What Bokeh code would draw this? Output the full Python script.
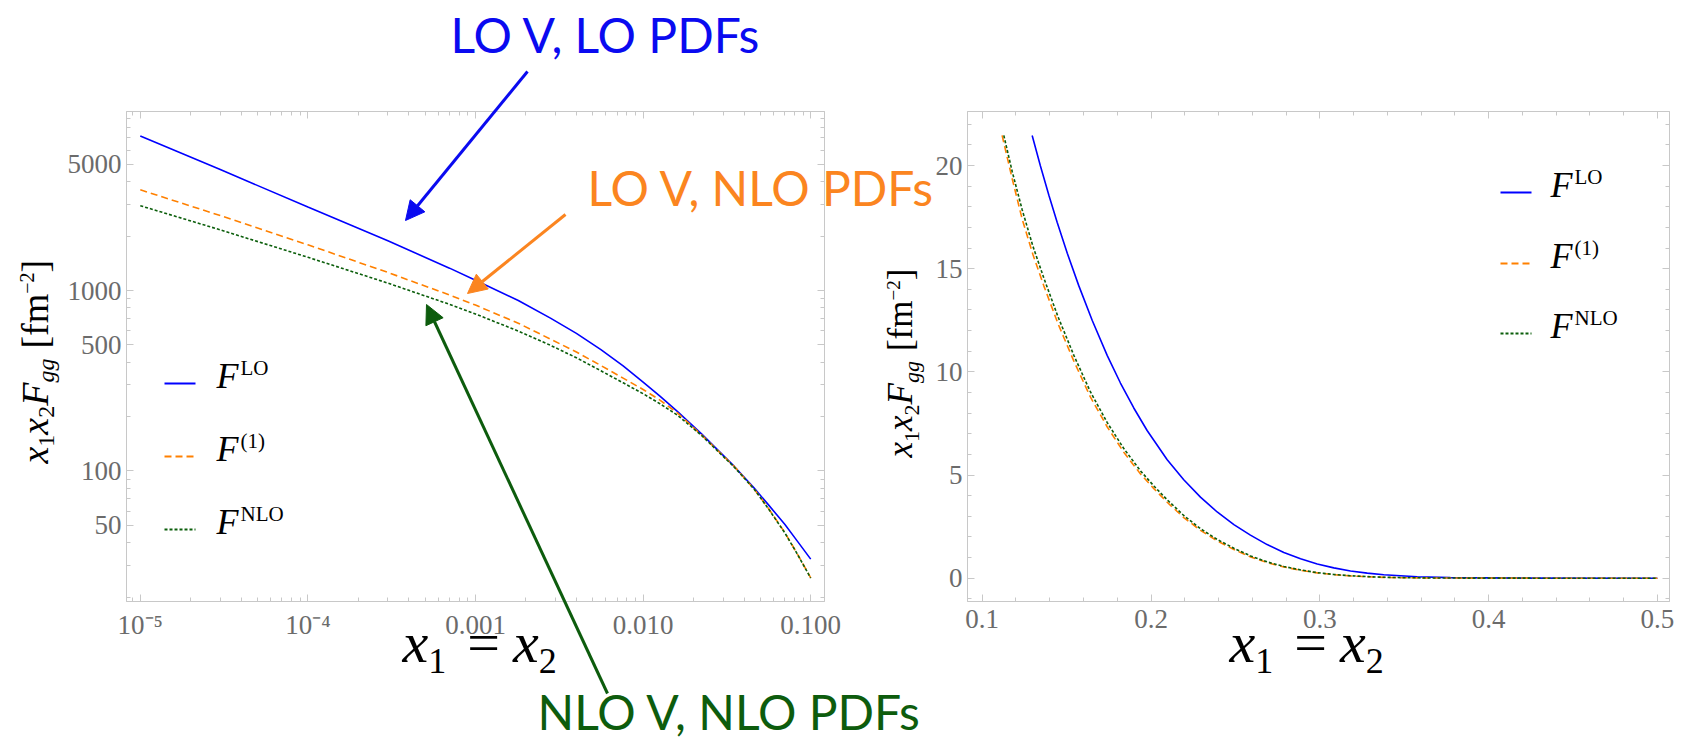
import math
from bokeh.plotting import figure
from bokeh.models import (Range1d, FixedTicker, LogAxis, LinearAxis, Label, Arrow,
                          NormalHead, CustomJSTickFormatter)
from bokeh.layouts import row, column
from bokeh.embed import file_html
from bokeh.resources import INLINE

# ---------------- data: left panel (log-log) ----------------
x_small = [1e-5, 3e-5, 1e-4, 3e-4, 7e-4, 1e-3, 1.8e-3, 2.8e-3, 4e-3, 5.6e-3, 7.6e-3,
           1e-2, 1.26e-2, 1.6e-2, 2.24e-2, 3.5e-2, 4.6e-2, 5.6e-2, 7e-2, 8.3e-2, 0.1]
F_LO_small = [7180, 4677, 2900, 1884, 1330, 1140, 881, 703, 579, 470, 382,
              311, 260, 214, 160, 106, 80.4, 64.9, 50.7, 41.0, 32.5]
F_1_small = [3615, 2600, 1791, 1259, 944, 830, 659, 538, 456, 384, 327,
             283, 247, 210, 158, 106, 79.4, 62.0, 45.7, 34.9, 25.6]
F_NLO_small = [2950, 2168, 1528, 1099, 838, 741, 596, 497, 424, 359, 308,
               268, 236, 204, 157, 105, 79.3, 61.7, 45.5, 34.8, 25.5]

# ---------------- data: right panel (linear) ----------------
x_LO_large = [0.1296, 0.1345, 0.1395, 0.1444, 0.1504, 0.1572, 0.1652, 0.1741, 0.1819, 0.1898,
              0.1977, 0.2096, 0.2194, 0.2293, 0.2392, 0.2491, 0.2589, 0.2688, 0.2787, 0.2886,
              0.2985, 0.3083, 0.3182, 0.3281, 0.3379, 0.3577, 0.3774, 0.42, 0.5]
F_LO_large = [21.46, 19.98, 18.56, 17.25, 15.75, 14.18, 12.49, 10.79, 9.46, 8.25,
              7.16, 5.74, 4.77, 3.93, 3.21, 2.60, 2.09, 1.63, 1.25, 0.94,
              0.69, 0.50, 0.35, 0.245, 0.167, 0.073, 0.030, 0.004, 0.0]
x_1_large = [0.1118, 0.1178, 0.1237, 0.1300, 0.1365, 0.1450, 0.1543, 0.1640, 0.174, 0.184,
             0.1938, 0.2017, 0.2096, 0.2194, 0.2293, 0.2392, 0.2491, 0.259, 0.2688, 0.2787,
             0.2887, 0.2985, 0.3083, 0.318, 0.3281, 0.3379, 0.348, 0.37, 0.40, 0.5]
F_1_large = [21.46, 19.35, 17.4, 15.7, 14.17, 12.32, 10.52, 8.8, 7.34, 6.09,
             5.05, 4.34, 3.68, 2.94, 2.32, 1.81, 1.39, 1.03, 0.755, 0.545,
             0.38, 0.257, 0.17, 0.113, 0.07, 0.042, 0.026, 0.009, 0.002, 0.0]
x_NLO_large = [0.1128, 0.1178, 0.1237, 0.1300, 0.1365, 0.1450, 0.1543, 0.1640, 0.174, 0.184,
               0.1938, 0.2017, 0.2096, 0.2194, 0.2293, 0.2392, 0.2491, 0.259, 0.2688, 0.2787,
               0.2887, 0.2985, 0.3083, 0.318, 0.3281, 0.3379, 0.348, 0.37, 0.40, 0.5]
F_NLO_large = [21.46, 19.70, 17.85, 16.10, 14.55, 12.65, 10.80, 9.05, 7.55, 6.27,
               5.20, 4.47, 3.80, 3.04, 2.40, 1.88, 1.45, 1.08, 0.79, 0.57,
               0.40, 0.27, 0.18, 0.12, 0.075, 0.045, 0.028, 0.01, 0.002, 0.0]

# ---------------- ticks / labels ----------------
left_xticks = [1e-5, 1e-4, 1e-3, 1e-2, 1e-1]
left_xtick_labels = ["10\u207b\u2075", "10\u207b\u2074", "0.001", "0.010", "0.100"]
left_yticks = [50, 100, 500, 1000, 5000]
right_xticks = [0.1, 0.2, 0.3, 0.4, 0.5]
right_yticks = [0, 5, 10, 15, 20]
legend_sups = ["LO", "(1)", "NLO"]
callouts = ["LO V, LO PDFs", "LO V, NLO PDFs", "NLO V, NLO PDFs"]

BLUE = "#0000ff"
ORANGE = "#ff8000"
GREEN = "#0b5e0b"
CALL_COLORS = ["#0a0af0", "#fb8520", "#0d5c0d"]
FRAME = "#c8c8c8"
TICKC = "#6b6b6b"
SERIF = "Liberation Serif"
SANS = "Lato"
# half of (ascent - descent): offset from a "middle" anchor down to the alphabetic baseline
MID = {SERIF: 0.3375, SANS: 0.387}

# Times-compatible advance widths (em) for composing math-like labels
W_ITAL = {"x": 0.444, "F": 0.611, "g": 0.5}
W_ROM = {"0": 0.5, "1": 0.5, "2": 0.5, "[": 0.333, "]": 0.333, "f": 0.333, "m": 0.778,
         "(": 0.333, ")": 0.333, "L": 0.611, "O": 0.722, "N": 0.722, "\u2212": 0.564,
         " ": 0.25, "=": 0.564}


def text_width(t, style, size):
    tab = W_ITAL if style == "italic" else W_ROM
    return sum(tab.get(c, W_ROM.get(c, 0.5)) for c in t) * size


def text_label(x, y, text, size, color, font, style="normal", angle=0.0, units="screen"):
    """Label whose alphabetic baseline starts at (x, y)."""
    off = MID[font] * size
    return Label(x=x - math.sin(angle) * off, y=y + math.cos(angle) * off,
                 x_units=units, y_units=units, text=text, angle=angle,
                 text_font=font, text_font_size=f"{size}px", text_font_style=style,
                 text_color=color, text_align="left", text_baseline="middle")


def compose(fig, x0, y0, pieces, angle=0.0, color="black", font=SERIF, units="screen"):
    dx, dy = math.cos(angle), math.sin(angle)
    ux, uy = -math.sin(angle), math.cos(angle)
    pos = 0.0
    for pc in pieces:
        if len(pc) == 1:          # explicit gap
            pos += pc[0]
            continue
        text, size, style, shift = pc
        fig.add_layout(text_label(x0 + dx * pos + ux * shift, y0 + dy * pos + uy * shift,
                                  text, size, color, font, style, angle, units))
        pos += text_width(text, style, size)


def style_axis(ax, labels=True):
    ax.axis_line_color = FRAME
    ax.major_tick_line_color = FRAME
    ax.minor_tick_line_color = FRAME
    ax.major_tick_in = 7
    ax.major_tick_out = 0
    ax.minor_tick_in = 4
    ax.minor_tick_out = 0
    ax.major_label_text_font = SERIF
    ax.major_label_text_font_size = "27px"
    ax.major_label_text_color = TICKC
    if not labels:
        ax.formatter = CustomJSTickFormatter(code="return ''")
        ax.major_label_text_font_size = "1px"


def make_fig(xtype, ytype, xr, yr, mbl, mbr, fw):
    p = figure(x_axis_type=xtype, y_axis_type=ytype,
               x_range=Range1d(*xr), y_range=Range1d(*yr),
               frame_width=fw, frame_height=490,
               min_border_left=mbl, min_border_right=mbr,
               min_border_top=111, min_border_bottom=140,
               output_backend="svg", toolbar_location=None)
    p.grid.visible = False
    p.outline_line_color = FRAME
    p.background_fill_color = None
    p.border_fill_color = None
    return p


def legend_block(p, x_line0, x_text, ys, lw):
    styles = [(BLUE, "solid"), (ORANGE, "7 4"), (GREEN, "3 2")]
    for (col, dash), y, sup in zip(styles, ys, legend_sups):
        p.add_layout(Arrow(x_start=x_line0, y_start=y + 5, x_end=x_line0 + 31, y_end=y + 5,
                           start_units="screen", end_units="screen", start=None, end=None,
                           line_color=col, line_width=lw, line_dash=dash))
        compose(p, x_text, y, [("F", 36, "italic", 0), (2,), (sup, 21, "normal", 13)])


B0 = 601            # frame bottom (page pixels) for both panels

# ================= left panel =================
L0 = 126            # frame left (page pixels)
left = make_fig("log", "log", (10 ** -5.0823, 10 ** -0.9177), (10 ** 1.277, 10 ** 3.9917), 126, 59, 698)
minor_x = [m * 10.0 ** e for e in range(-6, 0) for m in range(2, 10)]
minor_y = [m * 10.0 ** e for e in range(1, 5) for m in range(1, 10)]
left.xaxis.ticker = FixedTicker(ticks=left_xticks, minor_ticks=minor_x)
left.xaxis.major_label_overrides = dict(zip(left_xticks, left_xtick_labels))
left.yaxis.ticker = FixedTicker(ticks=left_yticks, minor_ticks=minor_y)
style_axis(left.xaxis[0]); style_axis(left.yaxis[0])
left.xaxis.major_label_standoff = 8
left.yaxis.major_label_standoff = 5
for loc in ("above", "right"):
    ax = LogAxis(ticker=FixedTicker(ticks=left_xticks if loc == "above" else left_yticks,
                                    minor_ticks=minor_x if loc == "above" else minor_y))
    style_axis(ax, labels=False)
    left.add_layout(ax, loc)

left.line(x_small, F_LO_small, line_color=BLUE, line_width=1.6)
left.line(x_small, F_1_small, line_color=ORANGE, line_width=1.6, line_dash="7 4")
left.line(x_small, F_NLO_small, line_color=GREEN, line_width=1.6, line_dash="3 2")
legend_block(left, 164 - L0, 216 - L0, [B0 - 388, B0 - 461, B0 - 534], 2)

# ================= right panel =================
R0 = 967
right = make_fig("linear", "linear", (0.09129, 0.50717), (-1.129, 22.62), 84, 15, 702)
minor_rx = [round(0.08 + 0.02 * i, 2) for i in range(23)]
minor_ry = list(range(-1, 23))
right.xaxis.ticker = FixedTicker(ticks=right_xticks, minor_ticks=minor_rx)
right.yaxis.ticker = FixedTicker(ticks=right_yticks, minor_ticks=minor_ry)
style_axis(right.xaxis[0]); style_axis(right.yaxis[0])
right.xaxis.major_label_standoff = 8
right.yaxis.major_label_standoff = 5
for loc in ("above", "right"):
    ax = LinearAxis(ticker=FixedTicker(ticks=right_xticks if loc == "above" else right_yticks,
                                       minor_ticks=minor_rx if loc == "above" else minor_ry))
    style_axis(ax, labels=False)
    right.add_layout(ax, loc)

right.line(x_LO_large, F_LO_large, line_color=BLUE, line_width=1.6)
right.line(x_1_large, F_1_large, line_color=ORANGE, line_width=1.6, line_dash="7 4")
right.line(x_NLO_large, F_NLO_large, line_color=GREEN, line_width=1.6, line_dash="3 2")
legend_block(right, 1500 - R0, 1550 - R0, [B0 - 197, B0 - 268, B0 - 338], 2)

# ================= overlay (texts and arrows outside the frames) =================
H = 741
ov = figure(width=1684, height=H, x_range=Range1d(0, 1684), y_range=Range1d(0, H),
            min_border=0, x_axis_location=None, y_axis_location=None,
            output_backend="svg", toolbar_location=None)
ov.grid.visible = False
ov.outline_line_color = None
ov.background_fill_color = None
ov.border_fill_color = None
ov.margin = (-H, 0, 0, 0)

def P(rx, ry):
    return rx, H - ry

ylab = [("x", 38, "italic", 0), ("1", 24, "normal", -7), ("x", 38, "italic", 0),
        ("2", 24, "normal", -7), ("F", 38, "italic", 0), ("gg", 24, "italic", -7),
        (10,), ("[fm", 38, "normal", 0), ("\u22122", 20, "normal", 14),
        ("]", 38, "normal", 0)]
compose(ov, *P(47, 463), ylab, angle=math.pi / 2, units="data")
ylab_r = [pc if len(pc) == 1 else (pc[0], round(pc[1] * 0.93), pc[2], pc[3] * 0.93) for pc in ylab]
compose(ov, *P(912, 457), ylab_r, angle=math.pi / 2, units="data")

xlab = [("x", 58, "italic", 0), ("1", 36, "normal", -11), (21,), ("=", 58, "normal", 0),
        (13,), ("x", 58, "italic", 0), ("2", 36, "normal", -11)]
compose(ov, *P(402, 662), xlab, units="data")
compose(ov, *P(1229, 662), xlab, units="data")

for txt, col, (rx, ry) in zip(callouts, CALL_COLORS, [(450, 53), (587, 206), (537, 729.5)]):
    ov.add_layout(text_label(rx, H - ry, txt, 48, col, SANS, units="data"))

for col, (x0, y0), (x1, y1) in [(CALL_COLORS[0], (527, 71), (405, 220)),
                                (CALL_COLORS[1], (565, 214), (467, 293)),
                                (CALL_COLORS[2], (607, 693), (426, 304))]:
    ov.add_layout(Arrow(x_start=x0, y_start=H - y0, x_end=x1, y_end=H - y1,
                        line_color=col, line_width=3,
                        end=NormalHead(size=19, fill_color=col, line_color=col)))

page = column(row(left, right), ov)
open("out.html", "w").write(file_html(page, INLINE))
